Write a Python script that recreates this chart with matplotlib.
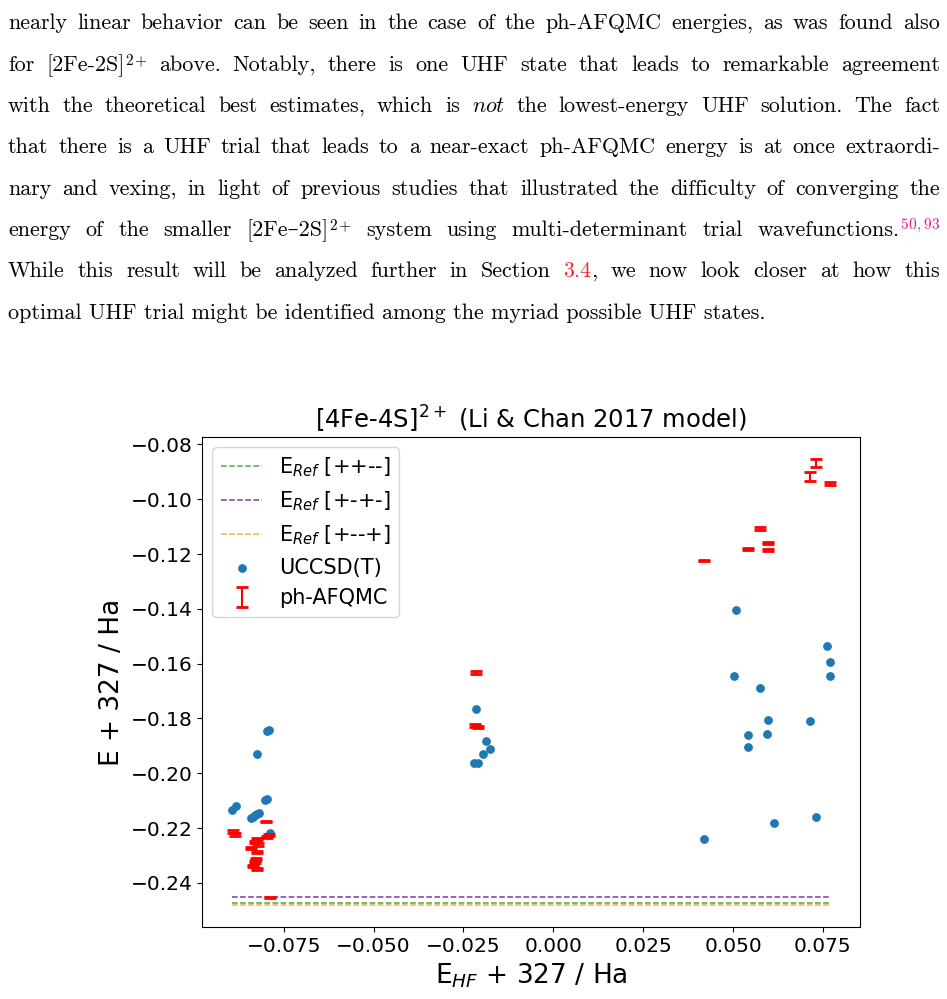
import matplotlib.pyplot as plt

# ---- chart data ----
ref_labels = [r'E$_{Ref}$ [++--]', r'E$_{Ref}$ [+-+-]', r'E$_{Ref}$ [+--+]']
ref_energies = [-0.2472, -0.2452, -0.2480]
ref_colors = ['#4aa54a', '#7b3ba3', '#f5b035']

uccsdt_ehf = [-0.0795, -0.0790, -0.0824, -0.0803, -0.0797, -0.0894, -0.0882,
              -0.0840, -0.0835, -0.0830, -0.0825, -0.0818, -0.0787,
              -0.0215, -0.0188, -0.0176, -0.0196, -0.0220, -0.0210,
              0.0761, 0.0770, 0.0769, 0.0503, 0.0575, 0.0597, 0.0714,
              0.0594, 0.0542, 0.0542, 0.0730, 0.0614, 0.0420, 0.0508]
uccsdt_e = [-0.1846, -0.1843, -0.1931, -0.2097, -0.2094, -0.2133, -0.2118,
            -0.2163, -0.2158, -0.2153, -0.2150, -0.2146, -0.2219,
            -0.1765, -0.1881, -0.1913, -0.1931, -0.1961, -0.1961,
            -0.1535, -0.1594, -0.1646, -0.1644, -0.1688, -0.1806, -0.1811,
            -0.1857, -0.1862, -0.1905, -0.2158, -0.2183, -0.2239, -0.1403]

afqmc_ehf = [0.0730, 0.0714, 0.0769, 0.0575, 0.0597, 0.0597, 0.0543, 0.0420,
             -0.0215, -0.0218, -0.0210,
             -0.0798, -0.0890, -0.0885, -0.0791, -0.0796,
             -0.0824, -0.0831, -0.0821, -0.0840, -0.0824, -0.0826, -0.0831,
             -0.0835, -0.0824, -0.0787]
afqmc_e = [-0.0868, -0.0917, -0.0942, -0.1107, -0.1159, -0.1184, -0.1182, -0.1222,
           -0.1633, -0.1826, -0.1832,
           -0.2176, -0.2214, -0.2225, -0.2225, -0.2233,
           -0.2239, -0.2251, -0.2260, -0.2272, -0.2289, -0.2312, -0.2324,
           -0.2339, -0.2349, -0.2454]
afqmc_err = [0.0014, 0.0018, 0.0005, 0.0004, 0.0003, 0.0003, 0.0003, 0.0002,
             0.0005, 0.0004, 0.0004,
             0.0002, 0.0005, 0.0005, 0.0004, 0.0004,
             0.0004, 0.0004, 0.0004, 0.0004, 0.0004, 0.0004, 0.0004,
             0.0004, 0.0004, 0.0003]

# ---- paragraph above the figure ----
MAG = '#e8168c'
RED = '#ee2a2a'
para_lines = [
    'nearly linear behavior can be seen in the case of the ph-AFQMC energies, as was found also'.split(),
    ['for', [('[2Fe-2S]', 'k'), (r'$^{2\!+}$', 'k')]] +
    'above. Notably, there is one UHF state that leads to remarkable agreement'.split(),
    'with the theoretical best estimates, which is'.split() + [[(r'$\mathit{not}$', 'k')]] +
    'the lowest-energy UHF solution. The fact'.split(),
    'that there is a UHF trial that leads to a near-exact ph-AFQMC energy is at once extraordi-'.split(),
    'nary and vexing, in light of previous studies that illustrated the difficulty of converging the'.split(),
    'energy of the smaller'.split() + [[('[2Fe\u20132S]', 'k'), (r'$^{2\!+}$', 'k')]] +
    'system using multi-determinant trial'.split() +
    [[('wavefunctions.', 'k'), (r'$^{50,93}$', MAG)]],
    'While this result will be analyzed further in Section'.split() +
    [[('3.4', RED), (',', 'k')]] + 'we now look closer at how this'.split(),
]
last_line = 'optimal UHF trial might be identified among the myriad possible UHF states.'
baselines = [29, 71, 112, 153, 195, 236, 277, 319]

W, H = 947, 999
fig = plt.figure(figsize=(W / 100, H / 100), dpi=100)
renderer = fig.canvas.get_renderer()
serif = ['cmr10', 'DejaVu Serif']


def px(x, y):
    return x / W, 1 - y / H


# size the body text so the ragged last line ends where it does on the page
probe = fig.text(0, 0, last_line, family=serif, fontsize=10)
fs = 10 * (765 - 8) / probe.get_window_extent(renderer).width
probe.remove()

x_left, x_right = 8, 940
for words, yb in zip(para_lines, baselines):
    placed = []
    for w in words:
        parts = [(w, 'k')] if isinstance(w, str) else w
        objs = []
        for s, c in parts:
            t = fig.text(0, 0, s, family=serif, math_fontfamily='cm', fontsize=fs,
                         color=c, ha='left', va='baseline')
            objs.append((t, t.get_window_extent(renderer).width))
        placed.append(objs)
    widths = [sum(wd for _, wd in objs) for objs in placed]
    gap = (x_right - x_left - sum(widths)) / (len(placed) - 1)
    x = x_left
    for objs, wd in zip(placed, widths):
        xx = x
        for t, w in objs:
            t.set_position(px(xx, yb))
            xx += w
        x += wd + gap

fig.text(*px(x_left, baselines[-1]), last_line, family=serif, fontsize=fs,
         ha='left', va='baseline')

# ---- the chart ----
ax = fig.add_axes([202 / W, 1 - 927 / H, (860 - 202) / W, (927 - 437) / H])

x_lo = min(min(uccsdt_ehf), min(afqmc_ehf))
x_hi = max(max(uccsdt_ehf), max(afqmc_ehf))
for lab, e, c in zip(ref_labels, ref_energies, ref_colors):
    ax.plot([x_lo, x_hi], [e, e], '--', color=c, lw=1.1, label=lab)

ax.scatter(uccsdt_ehf, uccsdt_e, s=28, color='tab:blue', label='UCCSD(T)')
ax.errorbar(afqmc_ehf, afqmc_e, yerr=afqmc_err, fmt='none', ecolor='red',
            elinewidth=1.5, capsize=4, capthick=2, label='ph-AFQMC')

ax.set_title(r'[4Fe-4S]$^{2+}$ (Li & Chan 2017 model)', fontsize=17.5)
ax.set_xlabel(r'E$_{HF}$ + 327 / Ha', fontsize=19)
ax.set_ylabel('E + 327 / Ha', fontsize=19)
ax.tick_params(labelsize=14.5)
ax.legend(loc='upper left', fontsize=15)

fig.savefig('out.png', dpi=100)
